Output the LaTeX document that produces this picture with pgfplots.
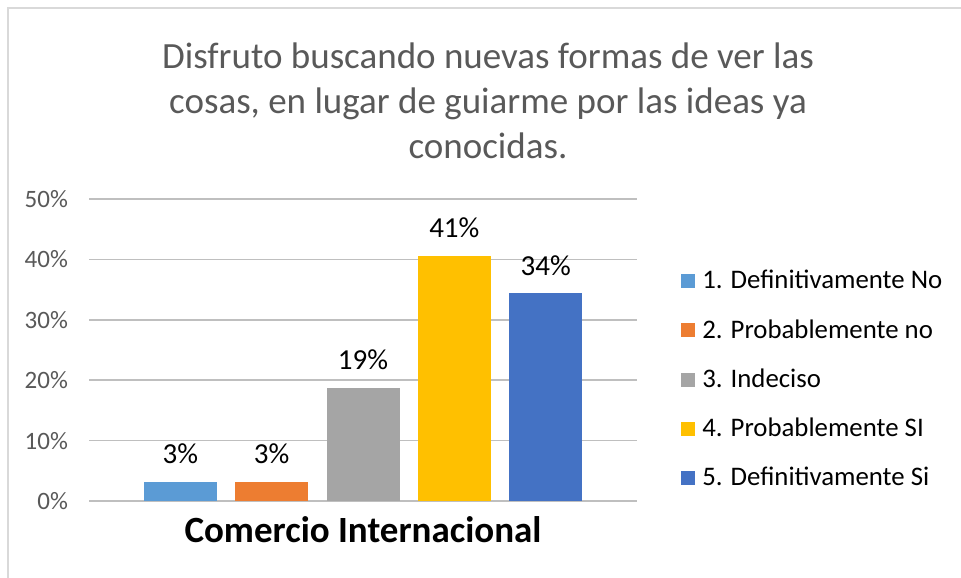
\documentclass[border=0pt]{standalone}
\usepackage{fontspec}
\setmainfont{Carlito}
\usepackage{pgfplots}
\pgfplotsset{compat=1.18}
\definecolor{c1}{HTML}{5B9BD5}
\definecolor{c2}{HTML}{ED7D31}
\definecolor{c3}{HTML}{A5A5A5}
\definecolor{c4}{HTML}{FFC000}
\definecolor{c5}{HTML}{4472C4}
\definecolor{txt}{HTML}{595959}
\definecolor{grid}{HTML}{D9D9D9}
\begin{document}
\begin{tikzpicture}
\path[use as bounding box] (0,0) rectangle (480.5pt,-288.5pt);
\draw[grid, line width=1pt] (4pt,-300pt) -- (4pt,-4pt) -- (490pt,-4pt);
\node[txt, font=\fontsize{18.5}{22.5}\selectfont, align=center] at (244pt,-50.5pt)
 {Disfruto buscando nuevas formas de ver las\\cosas, en lugar de guiarme por las ideas ya\\conocidas.};
\begin{axis}[
  at={(44.5pt,-250.5pt)}, anchor=south west,
  scale only axis, width=274pt, height=151pt,
  xmin=-1, xmax=5, ymin=0, ymax=50,
  ytick={0,10,20,30,40,50},
  yticklabel={\pgfmathprintnumber{\tick}\%},
  /pgf/number format/assume math mode=true,
  yticklabel style={txt, font=\fontsize{12.5}{14}\selectfont, xshift=-7pt},
  xtick=\empty,
  ymajorgrids, major grid style={grid, line width=0.75pt},
  axis line style={draw=none}, tick style={draw=none},
  ybar, bar width=36.5pt,
  every node near coord/.append style={black, font=\fontsize{14.5}{16}\selectfont, yshift=5.5pt},
  legend style={at={(1.08,0.765)}, anchor=north west, draw=none, fill=none,
    font=\fontsize{13.4}{15}\selectfont, row sep=13.8pt, inner sep=0pt,
    nodes={inner sep=0pt},
    /tikz/every odd column/.style={column sep=3.5pt}},
  legend cell align=left,
  legend image code/.code={\fill[#1] (0pt,-3.5pt) rectangle (7pt,3.5pt);},
]
\addplot[draw=none, fill=c1, bar shift=0pt, nodes near coords={3\%}] coordinates {(0,3.125)};
\addplot[draw=none, fill=c2, bar shift=0pt, nodes near coords={3\%}] coordinates {(1,3.125)};
\addplot[draw=none, fill=c3, bar shift=0pt, nodes near coords={19\%}] coordinates {(2,18.75)};
\addplot[draw=none, fill=c4, bar shift=0pt, nodes near coords={41\%}] coordinates {(3,40.625)};
\addplot[draw=none, fill=c5, bar shift=0pt, nodes near coords={34\%}] coordinates {(4,34.375)};
\legend{1. Definitivamente No, 2. Probablemente no, 3. Indeciso, 4. Probablemente SI, 5. Definitivamente Si}
\end{axis}
\node[font=\fontsize{18.5}{20}\selectfont\bfseries] at (181.5pt,-265pt) {Comercio Internacional};
\end{tikzpicture}
\end{document}
